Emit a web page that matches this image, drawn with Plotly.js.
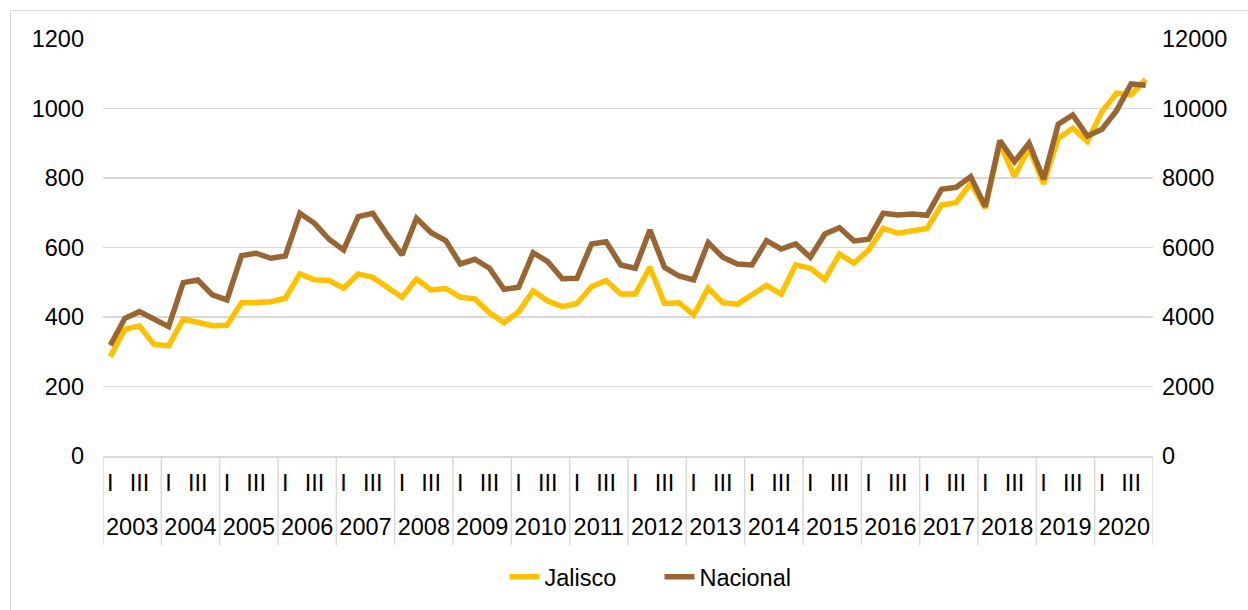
<!DOCTYPE html>
<html>
<head>
<meta charset="utf-8">
<script src="https://cdn.plot.ly/plotly-3.0.1.min.js"></script>
<style>
  html, body { margin: 0; padding: 0; background: #fff; overflow: hidden; }
  #chart { position: absolute; left: 0; top: 0; width: 1248px; height: 610px; }
  #frame { position: absolute; left: 10px; top: 10px; width: 1260px; height: 620px; border: 1px solid #d9d9d9; pointer-events: none; }
</style>
</head>
<body>
<div id="chart"></div>
<div id="frame"></div>
<script>
// Categories
const years = [2003, 2004, 2005, 2006, 2007, 2008, 2009, 2010, 2011, 2012, 2013, 2014, 2015, 2016, 2017, 2018, 2019, 2020];
const quarters = ["I", "II", "III", "IV"];
// Quarter tick labels that are displayed (Excel skips every other one)
const shownQuarters = ["I", "III"];

// Series values (quarterly, 2003-I ... 2020-IV)
const jalisco = [
  286, 365, 374, 321,
  317, 393, 385, 375,
  376, 441, 442, 444,
  454, 524, 507, 505,
  483, 524, 514, 487,
  457, 509, 478, 482,
  457, 452, 412, 384,
  415, 475, 446, 430,
  439, 487, 505, 466,
  466, 543, 439, 441,
  406, 483, 441, 437,
  463, 491, 466, 550,
  540, 508, 581, 555,
  593, 655, 641, 648,
  655, 722, 729, 785,
  713, 900, 804, 886,
  783, 914, 943, 905,
  991, 1044, 1039, 1084
];
const nacional = [
  3186, 3963, 4154, 3943,
  3722, 4988, 5065, 4634,
  4490, 5766, 5834, 5690,
  5756, 6985, 6697, 6237,
  5929, 6888, 6985, 6360,
  5785, 6841, 6427, 6197,
  5526, 5661, 5402, 4797,
  4855, 5851, 5592, 5103,
  5114, 6101, 6168, 5497,
  5402, 6504, 5430, 5180,
  5065, 6139, 5718, 5526,
  5497, 6197, 5957, 6101,
  5718, 6389, 6571, 6188,
  6236, 6985, 6936, 6965,
  6927, 7675, 7733, 8039,
  7175, 9075, 8470, 9000,
  7963, 9546, 9814, 9210,
  9402, 9938, 10706, 10668
];

// Build quarter categories "2003 I", ... and tick arrays from the named arrays
const cats = [];
const qTickVals = [], qTickText = [];
years.forEach(y => {
  quarters.forEach(q => {
    const c = y + " " + q;
    cats.push(c);
    if (shownQuarters.includes(q)) { qTickVals.push(c); qTickText.push(q); }
  });
});
const nQ = quarters.length;
const yearCenters = years.map((y, i) => i * nQ + (nQ - 1) / 2);
const yearBounds = years.map((y, i) => i * nQ - 0.5).concat([years.length * nQ - 0.5]);

const FONT = "Liberation Sans, Arial, sans-serif";
const GRID = "#d9d9d9";
const FS = 23.5;
const PLOT_H = 610 - 39 - 154;

const traces = [
  {
    type: "scatter", mode: "lines", name: "Jalisco",
    x: cats, y: jalisco, xaxis: "x", yaxis: "y",
    line: { color: "#FFC000", width: 5.5 }
  },
  {
    type: "scatter", mode: "lines", name: "Nacional",
    x: cats, y: nacional, xaxis: "x2", yaxis: "y2",
    line: { color: "#996633", width: 5.5 }
  }
];

// Year dividers below the axis (Excel multi-level category separators)
const dividerShapes = yearBounds.map(b => ({
  type: "line", xref: "x", yref: "paper",
  x0: b, x1: b, y0: 0, y1: -89 / PLOT_H,
  line: { color: GRID, width: 1.5 }, layer: "below"
}));

const layout = {
  width: 1248, height: 610,
  margin: { l: 103, r: 95, t: 39, b: 154, pad: 0 },
  paper_bgcolor: "rgba(0,0,0,0)",
  plot_bgcolor: "#fff",
  font: { family: FONT, size: FS, color: "#000" },
  showlegend: true,
  legend: {
    orientation: "h", x: 0.530, xanchor: "center",
    yref: "container", y: 0.054, yanchor: "middle",
    font: { family: FONT, size: FS, color: "#000" },
    entrywidth: 110, entrywidthmode: "pixels",
    itemwidth: 30, tracegroupgap: 0
  },
  shapes: dividerShapes,
  xaxis: {
    type: "category", categoryorder: "array", categoryarray: cats,
    range: [-0.5, cats.length - 0.5],
    showline: true, linecolor: GRID, linewidth: 1.5,
    showgrid: false, ticks: "", tickangle: 0,
    tickmode: "array", tickvals: qTickVals, ticktext: qTickText,
    ticklabelstandoff: 5,
    tickfont: { family: FONT, size: FS, color: "#000" },
    automargin: false
  },
  xaxis2: {
    overlaying: "x", anchor: "y2", side: "bottom",
    type: "category", categoryorder: "array", categoryarray: cats,
    range: [-0.5, cats.length - 0.5],
    showline: false, showgrid: false, zeroline: false, ticks: "", tickangle: 0,
    tickmode: "array", tickvals: yearCenters, ticktext: years.map(String),
    ticklabelstandoff: 54,
    tickfont: { family: FONT, size: FS, color: "#000" },
    automargin: false
  },
  yaxis: {
    range: [0, 1200], dtick: 200, tick0: 0,
    showgrid: true, gridcolor: GRID, gridwidth: 1.5,
    zeroline: false, showline: false, ticks: "",
    tickformat: "d",
    tickfont: { family: FONT, size: FS, color: "#000" },
    ticklabelstandoff: 18,
    automargin: false
  },
  yaxis2: {
    range: [0, 12000], dtick: 2000, tick0: 0,
    overlaying: "y", side: "right", anchor: "x2",
    showgrid: false, zeroline: false, showline: false, ticks: "",
    tickformat: "d",
    tickfont: { family: FONT, size: FS, color: "#000" },
    ticklabelstandoff: 8,
    automargin: false
  }
};

Plotly.newPlot("chart", traces, layout, { displayModeBar: false, staticPlot: true });
</script>
</body>
</html>
